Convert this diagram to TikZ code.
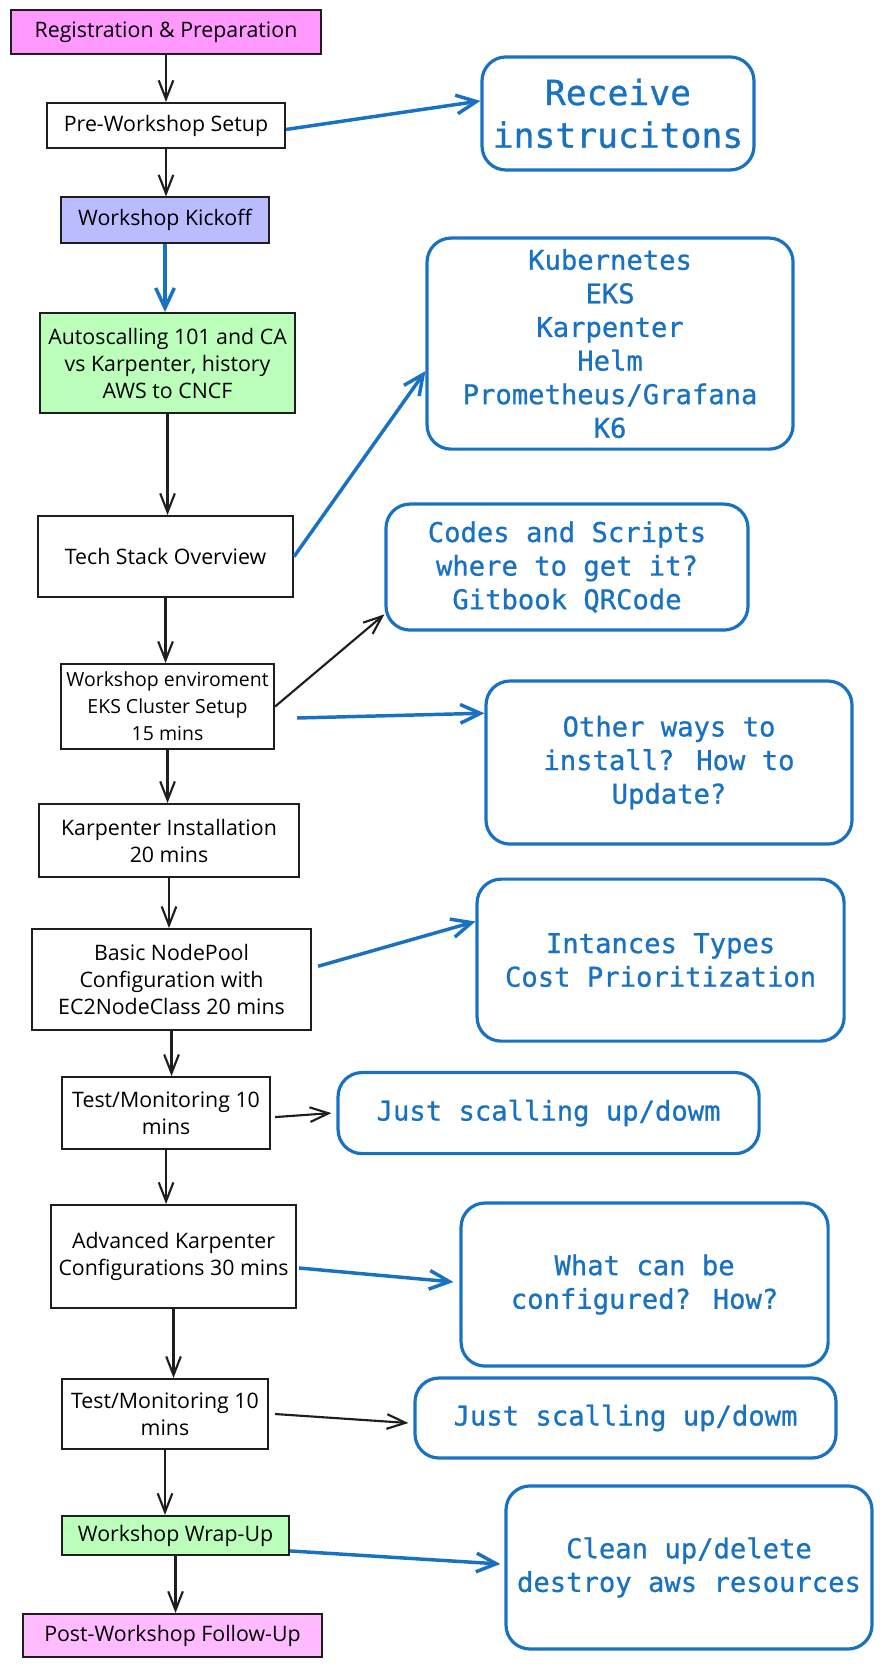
\documentclass[tikz,border=0pt]{standalone}
\usepackage{fontspec}
\usepackage{tikz}
\usetikzlibrary{shapes,arrows.meta,positioning}
\newfontfamily\handfamily{Open Sans}
\newfontfamily\monofamily[FakeBold=0.8]{DejaVu Sans Mono}
\newcommand{\stagefont}{\handfamily\fontsize{16pt}{20.3pt}\selectfont}
\newcommand{\smallstagefont}{\handfamily\fontsize{14.6pt}{20.3pt}\selectfont}
\newcommand{\notefont}{\monofamily\fontsize{20.4pt}{25.2pt}\selectfont}
\newcommand{\bignotefont}{\monofamily\fontsize{26pt}{32pt}\selectfont}
\definecolor{inkblack}{HTML}{1E1E1E}
\definecolor{noteblue}{HTML}{1971C2}
\definecolor{pinkfill}{HTML}{FF99FF}
\definecolor{palepink}{HTML}{FFBBFF}
\definecolor{lilac}{HTML}{BBBBFF}
\definecolor{mint}{HTML}{BBFFBB}
\tikzstyle{stage} = [rectangle, draw=inkblack, line width=1.5pt, fill=white, align=center, font=\stagefont, inner sep=2pt]
\tikzstyle{note} = [rectangle, draw=noteblue, line width=2.4pt, rounded corners=18pt, text=noteblue, align=center, font=\notefont]
\tikzstyle{line} = [draw=inkblack, line width=1.6pt, -{Straight Barb[length=14pt,width=11pt]}]
\tikzstyle{bline} = [draw=noteblue, line width=2.6pt, -{Straight Barb[length=15pt,width=14pt]}]

\begin{document}
\begin{tikzpicture}[node distance = 100pt, auto]
    \useasboundingbox (0,0) rectangle (661.5pt,-1251.75pt);
    % Place nodes
    \node [stage, fill=pinkfill, minimum width=232.5pt, minimum height=32.3pt] (reg) at (124.5pt,-24pt) {Registration \& Preparation};
    \node [stage, below of=reg, node distance=70.1pt, minimum width=178.5pt, minimum height=33.8pt] (pre) {Pre-Workshop Setup};
    \node [stage, below of=pre, node distance=70.9pt, xshift=-0.75pt, fill=lilac, minimum width=156pt, minimum height=33.8pt] (kickoff) {Workshop Kickoff};
    \node [stage, below of=kickoff, node distance=107.3pt, xshift=1.9pt, fill=mint, minimum width=191.3pt, minimum height=75pt] (autoscale) {Autoscalling 101 and CA\\vs Karpenter, history\\AWS to CNCF};
    \node [stage, below of=autoscale, node distance=145.1pt, xshift=-1.5pt, minimum width=191.3pt, minimum height=60.8pt] (techstack) {Tech Stack Overview};
    \node [stage, below of=techstack, node distance=112.5pt, xshift=1.5pt, font=\smallstagefont, inner sep=1pt, minimum width=159.8pt, minimum height=63.8pt] (envsetup) {Workshop enviroment\\EKS Cluster Setup\\15 mins};
    \node [stage, below of=envsetup, node distance=100.5pt, xshift=1.1pt, minimum width=195pt, minimum height=54.8pt] (install) {Karpenter Installation\\20 mins};
    \node [stage, below of=install, node distance=104.3pt, xshift=1.9pt, minimum width=209.3pt, minimum height=75.8pt] (basic) {Basic NodePool\\Configuration with\\EC2NodeClass 20 mins};
    \node [stage, below of=basic, node distance=100.1pt, xshift=-4.1pt, minimum width=156pt, minimum height=54pt] (testa) {Test/Monitoring 10\\mins};
    \node [stage, below of=testa, node distance=107.6pt, xshift=5.6pt, minimum width=183.8pt, minimum height=77.3pt] (advanced) {Advanced Karpenter\\Configurations 30 mins};
    \node [stage, below of=advanced, node distance=118.1pt, xshift=-6.4pt, minimum width=154.5pt, minimum height=52.5pt] (testb) {Test/Monitoring 10\\mins};
    \node [stage, below of=testb, node distance=91.1pt, xshift=7.9pt, fill=mint, minimum width=170.3pt, minimum height=29.3pt] (wrapup) {Workshop Wrap-Up};
    \node [stage, below of=wrapup, node distance=75pt, xshift=-2.3pt, fill=palepink, minimum width=224.3pt, minimum height=32.3pt] (post) {Post-Workshop Follow-Up};
    % Side notes
    \node [note, right of=pre, node distance=339pt, yshift=9pt, font=\bignotefont, minimum width=204pt, minimum height=84.8pt] (receive) {Receive\\instrucitons};
    \node [note, right of=autoscale, node distance=331.9pt, yshift=14.6pt, minimum width=274.5pt, minimum height=158.3pt] (stack) {Kubernetes\\EKS\\Karpenter\\Helm\\Prometheus/Grafana\\K6};
    \node [note, right of=techstack, node distance=301.1pt, yshift=-7.9pt, minimum width=271.5pt, minimum height=94.5pt] (codes) {Codes and Scripts\\where to get it?\\Gitbook QRCode};
    \node [note, right of=envsetup, node distance=376.1pt, yshift=-42pt, minimum width=274.5pt, minimum height=122.3pt] (otherways) {Other ways to\\install? How to\\Update?};
    \node [note, right of=basic, node distance=366.8pt, yshift=14.6pt, minimum width=275.3pt, minimum height=121.5pt] (types) {Intances Types\\Cost Prioritization};
    \node [note, right of=testa, node distance=286.9pt, minimum width=315.8pt, minimum height=60.8pt] (justa) {Just scalling up/dowm};
    \node [note, right of=advanced, node distance=353.3pt, yshift=-21pt, minimum width=275.3pt, minimum height=122.3pt] (configure) {What can be\\configured? How?};
    \node [note, right of=testb, node distance=345.4pt, yshift=-3pt, minimum width=315.8pt, minimum height=60pt] (justb) {Just scalling up/dowm};
    \node [note, right of=wrapup, node distance=385.1pt, yshift=-24pt, minimum width=274.5pt, minimum height=122.3pt] (cleanup) {Clean up/delete\\destroy aws resources};
    % Draw edges
    \path [line] (reg.south) -- (reg.south |- pre.north);
    \path [line] (pre.south) -- (pre.south |- kickoff.north);
    \path [bline] (kickoff.south) -- (kickoff.south |- autoscale.north);
    \path [line] (autoscale.south) -- (autoscale.south |- techstack.north);
    \path [line] (techstack.south) -- (techstack.south |- envsetup.north);
    \path [line] (envsetup.south) -- (envsetup.south |- install.north);
    \path [line] (install.south) -- (install.south |- basic.north);
    \path [line] (basic.south) -- (basic.south |- testa.north);
    \path [line] (testa.south) -- (testa.south |- advanced.north);
    \path [line] (advanced.south) -- (advanced.south |- testb.north);
    \path [line] (testb.south) -- (testb.south |- wrapup.north);
    \path [line] (wrapup.south) -- (wrapup.south |- post.north);
    \path [bline] ([yshift=-3pt]pre.east) -- ([yshift=9.4pt]receive.west);
    \path [bline] (techstack.east) -- ([yshift=-20.6pt]stack.west);
    \path [line] (envsetup.east) -- ([yshift=13pt]codes.south west);
    \path [bline] ([xshift=16.5pt,yshift=-8.6pt]envsetup.east) -- ([yshift=37pt]otherways.west);
    \path [bline] ([xshift=4.5pt,yshift=10pt]basic.east) -- ([yshift=29pt]types.west);
    \path [line] ([xshift=3pt,yshift=-3pt]testa.east) -- ([xshift=-3.75pt]justa.west);
    \path [bline] ([xshift=1.5pt,yshift=-8.6pt]advanced.east) -- ([xshift=-4.5pt,yshift=1.9pt]configure.west);
    \path [line] ([xshift=4.5pt]testb.east) -- ([xshift=-3.75pt,yshift=-3.75pt]justb.west);
    \path [bline] ([yshift=-11.6pt]wrapup.east) -- ([xshift=-3pt,yshift=2.6pt]cleanup.west);

\end{tikzpicture}
\end{document}
